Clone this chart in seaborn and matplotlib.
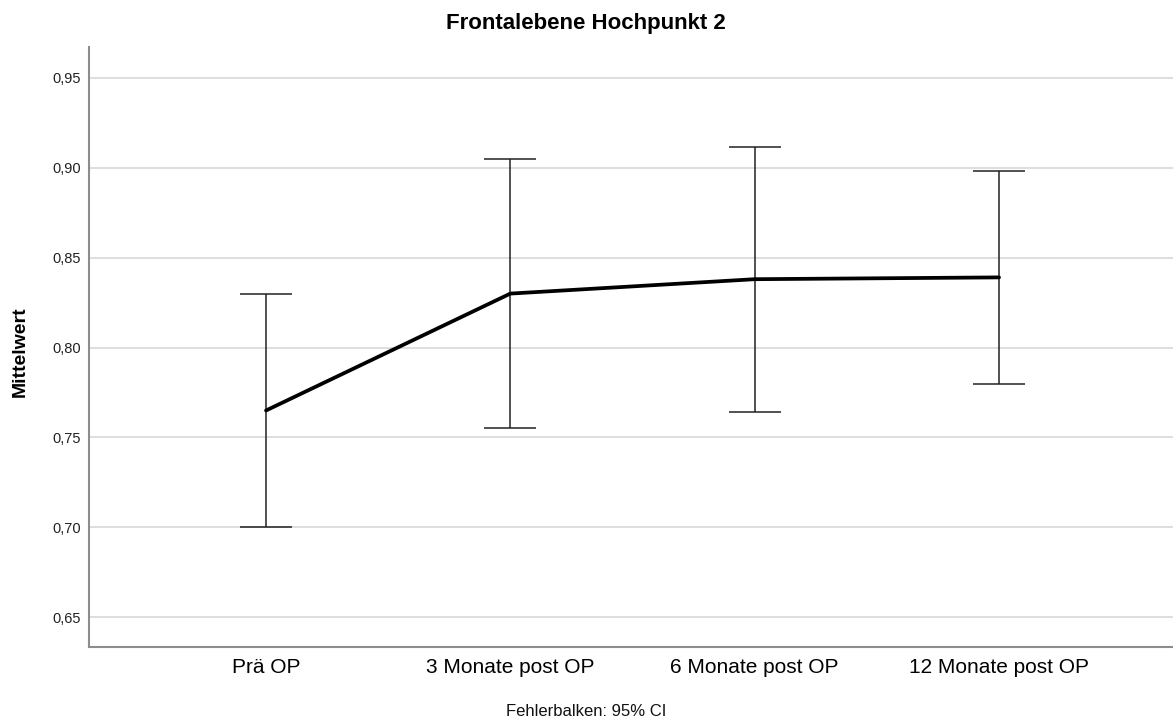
import matplotlib
matplotlib.use("Agg")
import matplotlib.pyplot as plt
import seaborn as sns
import numpy as np
import pandas as pd
from matplotlib.ticker import FuncFormatter

categories = ["Prä OP", "3 Monate post OP", "6 Monate post OP", "12 Monate post OP"]
means = [0.765, 0.830, 0.838, 0.839]
ci_lower = [0.700, 0.755, 0.764, 0.780]
ci_upper = [0.830, 0.905, 0.9115, 0.898]
yticks = [0.65, 0.70, 0.75, 0.80, 0.85, 0.90, 0.95]

sns.set_style("white")
plt.rcParams['font.family'] = ['Liberation Sans', 'DejaVu Sans']
plt.rcParams['text.color'] = 'black'

df = pd.DataFrame({"Zeitpunkt": categories, "Mittelwert": means,
                   "lo": ci_lower, "hi": ci_upper})

fig = plt.figure(figsize=(11.73, 7.25), dpi=100)
ax = fig.add_axes([89/1173, 78/725, (1173-89)/1173, 600/725])

xpos = np.arange(len(categories))
yerr = np.vstack([df["Mittelwert"] - df["lo"], df["hi"] - df["Mittelwert"]])
ax.errorbar(xpos, df["Mittelwert"], yerr=yerr, fmt="none", ecolor="#222222",
            elinewidth=1.1, capsize=19, capthick=1.1, zorder=3)
sns.lineplot(x=xpos, y=df["Mittelwert"].values, ax=ax, color="black",
             linewidth=2.7, sort=False, zorder=4)

ax.set_xlim(-0.7245, 3.712)
ax.set_ylim(0.6335, 0.9671)
ax.set_xticks(xpos)
ax.set_xticklabels(categories, fontsize=15, color="black")
ax.set_yticks(yticks)
ax.yaxis.set_major_formatter(FuncFormatter(lambda v, p: f"{v:.2f}".replace(".", ",")))
ax.tick_params(axis="y", length=0, pad=5.8, labelsize=10.5, labelcolor="#222222")
ax.tick_params(axis="x", length=0, pad=8)
ax.set_xlabel("")
ax.set_ylabel("")
ax.grid(axis="y", color="#d4d4d4", linewidth=1.1)
ax.grid(axis="x", visible=False)
ax.set_axisbelow(True)
for s in ["top", "right"]:
    ax.spines[s].set_visible(False)
for s in ["left", "bottom"]:
    ax.spines[s].set_color("#8c8c8c")
    ax.spines[s].set_linewidth(1.5)

fig.text(586/1173, 1 - 23/725, "Frontalebene Hochpunkt 2", ha="center", va="center",
         fontsize=16, fontweight="bold", color="black")
fig.text(20/1173, 1 - 352/725, "Mittelwert", ha="center", va="center",
         rotation=90, fontsize=14, fontweight="bold", color="black")
fig.text(586/1173, 13/725, "Fehlerbalken: 95% CI", ha="center", va="center",
         fontsize=12, color="#111111")

fig.savefig("out.png", dpi=100)
